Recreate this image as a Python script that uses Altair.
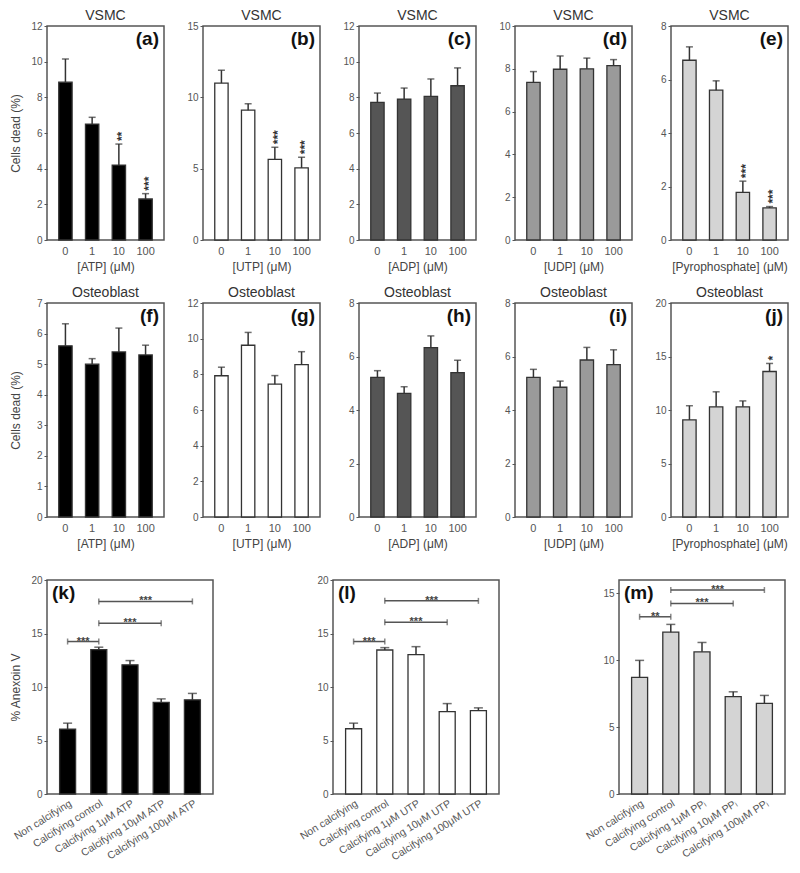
import json
import altair as alt
import pandas as pd

FONT = "Liberation Sans"
EDGE = "#333333"
TXT = "#444444"

# ---------------- data ----------------
doses = ["0", "1", "10", "100"]

# Row 1 : VSMC
vsmc_atp = [8.85, 6.50, 4.20, 2.30]
vsmc_atp_sem = [1.30, 0.38, 1.18, 0.30]
vsmc_atp_sig = ["", "", "**", "***"]

vsmc_utp = [11.0, 9.10, 5.65, 5.05]
vsmc_utp_sem = [0.90, 0.45, 0.85, 0.75]
vsmc_utp_sig = ["", "", "***", "***"]

vsmc_adp = [7.72, 7.90, 8.05, 8.65]
vsmc_adp_sem = [0.52, 0.62, 0.98, 1.00]

vsmc_udp = [7.37, 7.98, 8.00, 8.15]
vsmc_udp_sem = [0.50, 0.62, 0.50, 0.28]

vsmc_ppi = [6.72, 5.60, 1.78, 1.20]
vsmc_ppi_sem = [0.50, 0.35, 0.42, 0.05]
vsmc_ppi_sig = ["", "", "***", "***"]

# Row 2 : Osteoblast
ost_atp = [5.60, 5.00, 5.40, 5.30]
ost_atp_sem = [0.72, 0.18, 0.78, 0.32]

ost_utp = [7.92, 9.63, 7.45, 8.55]
ost_utp_sem = [0.48, 0.72, 0.48, 0.72]

ost_adp = [5.22, 4.62, 6.33, 5.40]
ost_adp_sem = [0.25, 0.25, 0.44, 0.46]

ost_udp = [5.22, 4.85, 5.87, 5.70]
ost_udp_sem = [0.30, 0.23, 0.47, 0.55]

ost_ppi = [9.07, 10.30, 10.30, 13.60]
ost_ppi_sem = [1.33, 1.40, 0.55, 0.75]
ost_ppi_sig = ["", "", "", "*"]

# Row 3 : Annexin V
atp_groups = ["Non calcifying", "Calcifying control", "Calcifying 1μM ATP",
              "Calcifying 10μM ATP", "Calcifying 100μM ATP"]
utp_groups = ["Non calcifying", "Calcifying control", "Calcifying 1μM UTP",
              "Calcifying 10μM UTP", "Calcifying 100μM UTP"]
ppi_groups = ["Non calcifying", "Calcifying control", "Calcifying 1μM PPᵢ",
              "Calcifying 10μM PPᵢ", "Calcifying 100μM PPᵢ"]

anx_atp = [6.07, 13.50, 12.07, 8.57, 8.80]
anx_atp_sem = [0.55, 0.22, 0.40, 0.32, 0.60]
anx_atp_br_from = [0, 1, 1]
anx_atp_br_to = [1, 3, 4]
anx_atp_br_y = [14.25, 15.95, 18.0]
anx_atp_br_sig = ["***", "***", "***"]

anx_utp = [6.10, 13.46, 13.02, 7.70, 7.80]
anx_utp_sem = [0.52, 0.22, 0.75, 0.75, 0.25]
anx_utp_br_from = [0, 1, 1]
anx_utp_br_to = [1, 3, 4]
anx_utp_br_y = [14.25, 16.05, 18.05]
anx_utp_br_sig = ["***", "***", "***"]

anx_ppi = [8.72, 12.10, 10.63, 7.28, 6.77]
anx_ppi_sem = [1.27, 0.58, 0.70, 0.36, 0.60]
anx_ppi_br_from = [0, 1, 1]
anx_ppi_br_to = [1, 3, 4]
anx_ppi_br_y = [13.25, 14.25, 15.25]
anx_ppi_br_sig = ["**", "***", "***"]

C_ATP = "#000000"
C_UTP = "#ffffff"
C_ADP = "#555555"
C_UDP = "#9a9a9a"
C_PPI = "#d4d4d4"

TW, TH = 117, 214
BW, BH = 166, 214


def tag_layer(tag, x, align):
    return alt.Chart(pd.DataFrame({"tag": [tag]})).mark_text(
        font=FONT, fontSize=19, fontWeight="bold", color="#111111",
        align=align, baseline="top"
    ).encode(text="tag:N", x=alt.value(x), y=alt.value(4))


def y_axis(vals, ytitle):
    return alt.Axis(values=vals, minExtent=19, maxExtent=19,
                    title=ytitle if ytitle else "")


def dose_panel(means, sems, ymax, ystep, fill, xtitle, tag, title,
               sig=None, ytitle=None):
    sig = sig if sig is not None else [""] * len(doses)
    df = pd.DataFrame({"dose": doses, "mean": means, "sem": sems, "sig": sig})
    df["top"] = df["mean"] + df["sem"]
    xs = alt.Scale(domain=doses, paddingInner=0.5, paddingOuter=0.44)
    ys = alt.Scale(domain=[0, ymax], nice=False)
    yax = y_axis(list(range(0, ymax + 1, ystep)), ytitle)
    xax = alt.Axis(title=xtitle, labelAngle=0, ticks=False,
                   labelPadding=5, titlePadding=5, labelFontSize=11)
    x_main = alt.X("dose:N", scale=xs, sort=doses, axis=xax)
    x_sub = alt.X("dose:N", scale=xs, sort=doses, bandPosition=0.5, axis=xax)
    base = alt.Chart(df)
    bars = base.mark_bar(fill=fill, stroke=EDGE, strokeWidth=1.3).encode(
        x=x_main, y=alt.Y("mean:Q", scale=ys, axis=yax))
    err = base.mark_rule(color=EDGE, strokeWidth=1.5).encode(
        x=x_sub, y=alt.Y("mean:Q", scale=ys, axis=yax), y2="top:Q")
    cap = base.mark_tick(orient="horizontal", color=EDGE, thickness=1.5, size=7).encode(
        x=x_sub, y=alt.Y("top:Q", scale=ys, axis=yax))
    stars = base.transform_filter("datum.sig != ''").mark_text(
        angle=270, align="left", baseline="middle", dx=3, dy=3,
        font=FONT, fontSize=12, fontWeight="bold", color=EDGE
    ).encode(x=x_sub, y=alt.Y("top:Q", scale=ys, axis=yax), text="sig:N")
    return alt.layer(bars, err, cap, stars, tag_layer(tag, TW - 5, "right")).properties(
        width=TW, height=TH,
        title=alt.Title(title, font=FONT, fontSize=14, fontWeight="normal",
                        color="#333333", offset=-2, frame="group"))


def treat_panel(groups, means, sems, br_from, br_to, br_y, br_sig, ymax, yvals,
                fill, tag, ytitle=None):
    idx = list(range(len(groups)))
    df = pd.DataFrame({"i": idx, "mean": means, "sem": sems})
    df["top"] = df["mean"] + df["sem"]
    br = pd.DataFrame({"a": br_from, "b": br_to, "y": br_y, "sig": br_sig})
    xs = alt.Scale(domain=[-0.5, len(groups) - 0.5], nice=False, zero=False)
    ys = alt.Scale(domain=[0, ymax], nice=False)
    label_expr = json.dumps(groups, ensure_ascii=False) + "[datum.value]"
    xax = alt.Axis(values=idx, labelExpr=label_expr, labelAngle=-32, ticks=False,
                   title="", labelPadding=4, labelFontSize=10.5, labelOverlap=False)
    yax = y_axis(yvals, ytitle)
    X = lambda f: alt.X(f, scale=xs, axis=xax)
    Y = lambda f: alt.Y(f, scale=ys, axis=yax)
    base = alt.Chart(df)
    bars = base.mark_bar(fill=fill, stroke=EDGE, strokeWidth=1.3, width=16).encode(
        x=X("i:Q"), y=Y("mean:Q"))
    err = base.mark_rule(color=EDGE, strokeWidth=1.5).encode(
        x=X("i:Q"), y=Y("mean:Q"), y2="top:Q")
    cap = base.mark_tick(orient="horizontal", color=EDGE, thickness=1.5, size=9).encode(
        x=X("i:Q"), y=Y("top:Q"))
    bb = alt.Chart(br)
    line = bb.mark_rule(color="#555555", strokeWidth=1.5).encode(
        x=X("a:Q"), x2="b:Q", y=Y("y:Q"))
    ends = bb.transform_fold(["a", "b"], as_=["end", "pos"]).mark_tick(
        orient="vertical", color="#555555", thickness=1.5, size=6).encode(
        x=X("pos:Q"), y=Y("y:Q"))
    txt = bb.transform_calculate(mid="(datum.a + datum.b) / 2").mark_text(
        font=FONT, fontSize=11, fontWeight="bold", color="#444444",
        baseline="alphabetic", dy=3
    ).encode(x=X("mid:Q"), y=Y("y:Q"), text="sig:N")
    return alt.layer(bars, err, cap, line, ends, txt, tag_layer(tag, 5, "left")).properties(
        width=BW, height=BH)


pa = dose_panel(vsmc_atp, vsmc_atp_sem, 12, 2, C_ATP, "[ATP] (μM)", "(a)", "VSMC",
                sig=vsmc_atp_sig, ytitle="Cells dead (%)")
pb = dose_panel(vsmc_utp, vsmc_utp_sem, 15, 5, C_UTP, "[UTP] (μM)", "(b)", "VSMC",
                sig=vsmc_utp_sig)
pc = dose_panel(vsmc_adp, vsmc_adp_sem, 12, 2, C_ADP, "[ADP] (μM)", "(c)", "VSMC")
pd_ = dose_panel(vsmc_udp, vsmc_udp_sem, 10, 2, C_UDP, "[UDP] (μM)", "(d)", "VSMC")
pe = dose_panel(vsmc_ppi, vsmc_ppi_sem, 8, 2, C_PPI, "[Pyrophosphate] (μM)", "(e)", "VSMC",
                sig=vsmc_ppi_sig)

pf = dose_panel(ost_atp, ost_atp_sem, 7, 1, C_ATP, "[ATP] (μM)", "(f)", "Osteoblast",
                ytitle="Cells dead (%)")
pg = dose_panel(ost_utp, ost_utp_sem, 12, 2, C_UTP, "[UTP] (μM)", "(g)", "Osteoblast")
ph = dose_panel(ost_adp, ost_adp_sem, 8, 2, C_ADP, "[ADP] (μM)", "(h)", "Osteoblast")
pi = dose_panel(ost_udp, ost_udp_sem, 8, 2, C_UDP, "[UDP] (μM)", "(i)", "Osteoblast")
pj = dose_panel(ost_ppi, ost_ppi_sem, 20, 5, C_PPI, "[Pyrophosphate] (μM)", "(j)", "Osteoblast",
                sig=ost_ppi_sig)

pk = treat_panel(atp_groups, anx_atp, anx_atp_sem, anx_atp_br_from, anx_atp_br_to,
                 anx_atp_br_y, anx_atp_br_sig, 20, [0, 5, 10, 15, 20], C_ATP, "(k)",
                 ytitle="% Anexoin V")
pl = treat_panel(utp_groups, anx_utp, anx_utp_sem, anx_utp_br_from, anx_utp_br_to,
                 anx_utp_br_y, anx_utp_br_sig, 20, [0, 5, 10, 15, 20], C_UTP, "(l)")
pm = treat_panel(ppi_groups, anx_ppi, anx_ppi_sem, anx_ppi_br_from, anx_ppi_br_to,
                 anx_ppi_br_y, anx_ppi_br_sig, 16, [0, 5, 10, 15], C_PPI, "(m)")

row1 = alt.hconcat(pa, pb, pc, pd_, pe, spacing=39, bounds="flush")
row2 = alt.hconcat(pf, pg, ph, pi, pj, spacing=39, bounds="flush")
row3 = alt.hconcat(pk, pl, pm, spacing=120, bounds="flush")

upper = alt.vconcat(row1, row2, spacing=12)
chart = alt.vconcat(upper, row3, spacing=24).properties(
    padding={"left": 0, "top": 0, "right": 2, "bottom": 2}
).configure_view(
    stroke="#555555", strokeWidth=1.5
).configure_axis(
    labelFont=FONT, titleFont=FONT, labelFontSize=10, titleFontSize=12,
    labelColor="#555555", titleColor="#444444", titleFontWeight="normal",
    domain=False, grid=False, tickColor="#555555", tickSize=3, labelPadding=2,
    titlePadding=6
)

chart.save("out.html", embed_options={"renderer": "svg", "actions": False})
